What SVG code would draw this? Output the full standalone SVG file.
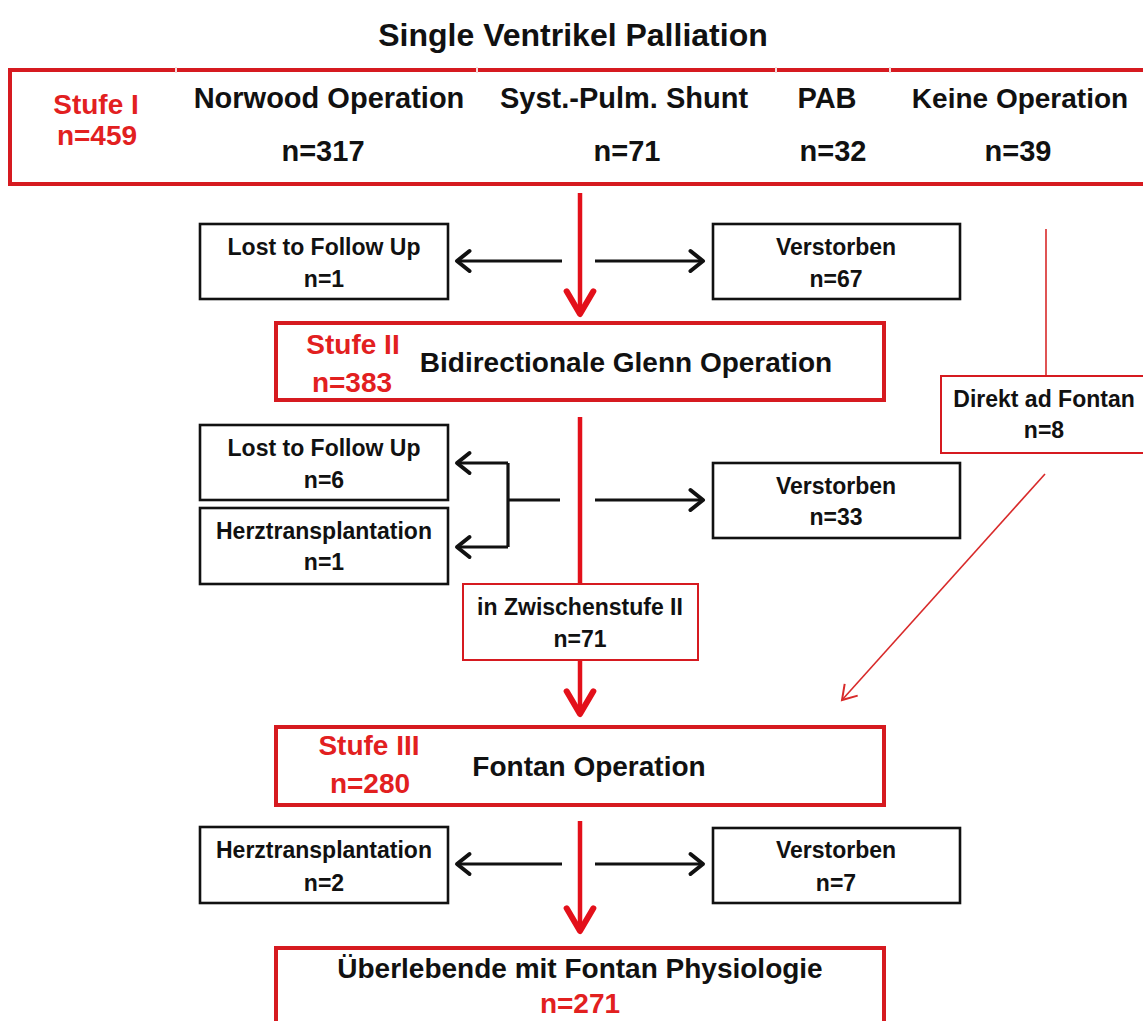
<svg xmlns="http://www.w3.org/2000/svg" width="1143" height="1021" viewBox="0 0 1143 1021">
<style>
text{font-family:"Liberation Sans",Arial,sans-serif;font-weight:bold;text-anchor:middle;fill:#111}
.t{font-size:32px}
.big{font-size:28px}
.top{font-size:29px}
.sm{font-size:23px}
.red{fill:#e2201f}
.rbox{fill:#fff;stroke:#d61a20;stroke-width:4}
.rthin{fill:#fff;stroke:#d61a20;stroke-width:2}
.bbox{fill:#fff;stroke:#111;stroke-width:2.6}
.spine{stroke:#e3101a;stroke-width:4.5;fill:none}
.blk{stroke:#111;stroke-width:3.2;fill:none}
.thin{stroke:#d82a2a;stroke-width:1.6;fill:none}
</style>
<defs>
<marker id="hr" markerUnits="userSpaceOnUse" markerWidth="40" markerHeight="40" viewBox="-25 -15 30 30" refX="0" refY="0" orient="auto" overflow="visible">
<path d="M-17,-10 L0,0 L-17,10" fill="none" stroke="#e3101a" stroke-width="4.5" stroke-linecap="round" stroke-linejoin="round"/>
</marker>
<marker id="hb" markerUnits="userSpaceOnUse" markerWidth="30" markerHeight="30" viewBox="-15 -12 20 24" refX="0" refY="0" orient="auto" overflow="visible">
<path d="M-10,-8 L0,0 L-10,8" fill="none" stroke="#111" stroke-width="3.2" stroke-linecap="round" stroke-linejoin="round"/>
</marker>
<marker id="ht" markerUnits="userSpaceOnUse" markerWidth="30" markerHeight="30" viewBox="-15 -12 20 24" refX="0" refY="0" orient="auto" overflow="visible">
<path d="M-11,-7 L0,0 L-11,7" fill="none" stroke="#d82a2a" stroke-width="1.6"/>
</marker>
</defs>
<rect width="1143" height="1021" fill="#fff"/>
<text id="title" class="t" x="573" y="46">Single Ventrikel Palliation</text>

<g id="connectors">
<line class="spine" x1="580" y1="193" x2="580" y2="314" marker-end="url(#hr)"/>
<line class="blk" x1="562" y1="261" x2="457" y2="261" marker-end="url(#hb)"/>
<line class="blk" x1="595" y1="261" x2="703" y2="261" marker-end="url(#hb)"/>
<line class="spine" x1="580" y1="417" x2="580" y2="584"/>
<path class="blk" d="M560,500 H508 M508,463 V547"/>
<line class="blk" x1="508" y1="463" x2="457" y2="463" marker-end="url(#hb)"/>
<line class="blk" x1="508" y1="547" x2="457" y2="547" marker-end="url(#hb)"/>
<line class="blk" x1="595" y1="500" x2="703" y2="500" marker-end="url(#hb)"/>
<line class="spine" x1="580" y1="660" x2="580" y2="714" marker-end="url(#hr)"/>
<line class="spine" x1="580" y1="821" x2="580" y2="931" marker-end="url(#hr)"/>
<line class="blk" x1="562" y1="864" x2="457" y2="864" marker-end="url(#hb)"/>
<line class="blk" x1="595" y1="864" x2="703" y2="864" marker-end="url(#hb)"/>
<line class="thin" x1="1046" y1="229" x2="1046" y2="376"/>
<line class="thin" x1="1045" y1="474" x2="842" y2="700" marker-end="url(#ht)"/>
</g>

<g id="stage1">
<rect class="rbox" x="10" y="70" width="1150" height="114"/>
<g stroke="#f2dede" stroke-width="2"><line x1="176" y1="67" x2="176" y2="73"/><line x1="477" y1="67" x2="477" y2="73"/><line x1="776" y1="67" x2="776" y2="73"/><line x1="890" y1="67" x2="890" y2="73"/></g>
<text class="big red" x="96" y="114">Stufe I</text>
<text class="big red" x="97" y="145">n=459</text>
<text class="top" x="329" y="108">Norwood Operation</text>
<text class="top" x="323" y="161">n=317</text>
<text class="top" x="624" y="108">Syst.-Pulm. Shunt</text>
<text class="top" x="627" y="161">n=71</text>
<text class="top" x="827" y="108">PAB</text>
<text class="top" x="833" y="161">n=32</text>
<text class="big" x="1020" y="108">Keine Operation</text>
<text class="top" x="1018" y="161">n=39</text>
</g>

<g id="lost1"><rect class="bbox" x="200" y="224" width="248" height="75"/>
<text class="sm" x="324" y="255">Lost to Follow Up</text><text class="sm" x="324" y="287">n=1</text></g>

<g id="dead1"><rect class="bbox" x="713" y="224" width="247" height="75"/>
<text class="sm" x="836" y="255">Verstorben</text><text class="sm" x="836" y="287">n=67</text></g>

<g id="stage2"><rect class="rbox" x="276" y="323" width="608" height="77"/>
<text class="big red" x="353" y="354">Stufe II</text>
<text class="big red" x="352" y="392">n=383</text>
<text class="big" x="626" y="372">Bidirectionale Glenn Operation</text></g>

<g id="direkt"><rect class="rthin" x="941" y="376" width="220" height="77"/>
<text class="sm" x="1044" y="407">Direkt ad Fontan</text><text class="sm" x="1044" y="438">n=8</text></g>

<g id="lost2"><rect class="bbox" x="200" y="425" width="248" height="75"/>
<text class="sm" x="324" y="456">Lost to Follow Up</text><text class="sm" x="324" y="488">n=6</text></g>

<g id="herz1"><rect class="bbox" x="200" y="508" width="248" height="76"/>
<text class="sm" x="324" y="539">Herztransplantation</text><text class="sm" x="324" y="570">n=1</text></g>

<g id="dead2"><rect class="bbox" x="713" y="463" width="247" height="75"/>
<text class="sm" x="836" y="494">Verstorben</text><text class="sm" x="836" y="525">n=33</text></g>

<g id="zwischen"><rect class="rthin" x="463" y="584" width="235" height="76"/>
<text class="sm" x="580" y="615">in Zwischenstufe II</text><text class="sm" x="580" y="647">n=71</text></g>

<g id="stage3"><rect class="rbox" x="276" y="727" width="608" height="78"/>
<text class="big red" x="369" y="755">Stufe III</text>
<text class="big red" x="370" y="793">n=280</text>
<text class="big" x="589" y="776">Fontan Operation</text></g>

<g id="herz2"><rect class="bbox" x="200" y="827" width="248" height="76"/>
<text class="sm" x="324" y="858">Herztransplantation</text><text class="sm" x="324" y="891">n=2</text></g>

<g id="dead3"><rect class="bbox" x="713" y="828" width="247" height="75"/>
<text class="sm" x="836" y="858">Verstorben</text><text class="sm" x="836" y="891">n=7</text></g>

<g id="final"><rect class="rbox" x="276" y="948" width="608" height="80"/>
<text class="big" x="580" y="978">Überlebende mit Fontan Physiologie</text>
<text class="big red" x="580" y="1013">n=271</text></g>
</svg>
